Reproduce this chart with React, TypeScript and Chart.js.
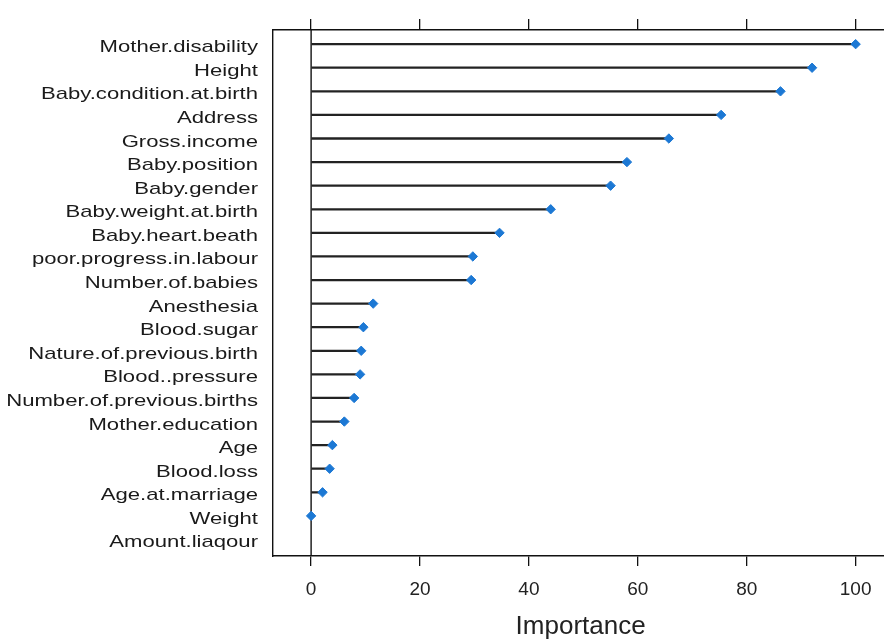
import React, { useEffect, useRef } from "react";
import { Chart, registerables } from "chart.js";

Chart.register(...registerables);

const categories: string[] = [
  "Mother.disability",
  "Height",
  "Baby.condition.at.birth",
  "Address",
  "Gross.income",
  "Baby.position",
  "Baby.gender",
  "Baby.weight.at.birth",
  "Baby.heart.beath",
  "poor.progress.in.labour",
  "Number.of.babies",
  "Anesthesia",
  "Blood.sugar",
  "Nature.of.previous.birth",
  "Blood..pressure",
  "Number.of.previous.births",
  "Mother.education",
  "Age",
  "Blood.loss",
  "Age.at.marriage",
  "Weight",
  "Amount.liaqour",
];

const importance: (number | null)[] = [
  100, 92.0, 86.2, 75.3, 65.7, 58.0, 55.0, 44.0, 34.6, 29.7, 29.4,
  11.4, 9.6, 9.2, 9.0, 7.9, 6.1, 3.9, 3.4, 2.1, 0, null,
];

const xTicks: number[] = [0, 20, 40, 60, 80, 100];
const xTitle = "Importance";

const FONT = '"Liberation Sans", Arial, sans-serif';

const yLabelPlugin = {
  id: "yLabels",
  afterDraw(chart: any) {
    const { ctx, scales } = chart;
    const y = scales.y;
    const xRight = y.right - 15;
    ctx.save();
    ctx.font = `17px ${FONT}`;
    ctx.fillStyle = "#1a1a1a";
    ctx.textAlign = "right";
    ctx.textBaseline = "alphabetic";
    categories.forEach((c, i) => {
      const py = y.getPixelForValue(i);
      ctx.save();
      ctx.translate(xRight, py + 8);
      ctx.scale(1.3, 1);
      ctx.fillText(c, 0, 0);
      ctx.restore();
    });
    ctx.restore();
  },
};

export default function App() {
  const ref = useRef<HTMLCanvasElement | null>(null);

  useEffect(() => {
    if (!ref.current) return;
    Chart.defaults.font.family = FONT;
    const points = importance
      .map((v, i) => (v === null ? null : { x: v, y: i }))
      .filter((p) => p !== null);
    const segments = importance
      .map((v, i) => (v === null ? null : { y: i, x: [0, v] }))
      .filter((p) => p !== null);

    const chart = new Chart(ref.current, {
      data: {
        datasets: [
          {
            type: "scatter",
            data: points as any,
            pointStyle: "rectRot",
            pointRadius: 4.7,
            pointBackgroundColor: "#1c78d4",
            pointBorderColor: "#1c78d4",
            pointBorderWidth: 1,
            xAxisID: "x",
            yAxisID: "y",
          } as any,
          {
            type: "bar",
            indexAxis: "y",
            data: segments as any,
            backgroundColor: "#222",
            borderWidth: 0,
            barThickness: 1.6,
            xAxisID: "x",
            yAxisID: "y",
          } as any,
          {
            type: "line",
            data: [
              { x: 0, y: -0.6 },
              { x: 0, y: 21.7 },
            ],
            borderColor: "#111",
            borderWidth: 1.4,
            pointRadius: 0,
            xAxisID: "x",
            yAxisID: "y",
          } as any,
        ],
      },
      options: {
        animation: false,
        responsive: false,
        maintainAspectRatio: false,
        events: [],
        layout: { padding: 0 },
        plugins: {
          legend: { display: false },
          tooltip: { enabled: false },
        },
        scales: {
          x: {
            type: "linear",
            position: "bottom",
            min: -7,
            max: 106.0,
            offset: false,
            afterBuildTicks: (s: any) => {
              s.ticks = xTicks.map((v) => ({ value: v }));
            },
            afterFit: (s: any) => {
              s.height = 86;
            },
            grid: {
              display: true,
              drawOnChartArea: false,
              drawTicks: true,
              tickLength: 10,
              color: "#111",
              lineWidth: 1.3,
              offset: false,
            },
            border: { display: true, color: "#111", width: 1.4 },
            ticks: {
              color: "#222",
              font: { size: 19, family: FONT },
              padding: 12,
              maxRotation: 0,
            },
            title: {
              display: true,
              text: xTitle,
              color: "#222",
              font: { size: 26, family: FONT, lineHeight: 1.2 },
              padding: { top: 0, bottom: 0 },
            },
          },
          x2: {
            type: "linear",
            position: "top",
            min: -7,
            max: 106.0,
            offset: false,
            afterBuildTicks: (s: any) => {
              s.ticks = xTicks.map((v) => ({ value: v }));
            },
            afterFit: (s: any) => {
              s.height = 30;
            },
            grid: {
              display: true,
              drawOnChartArea: false,
              drawTicks: true,
              tickLength: 11,
              color: "#111",
              lineWidth: 1.3,
              offset: false,
            },
            border: { display: true, color: "#111", width: 1.4 },
            ticks: { display: false },
          },
          y: {
            type: "linear",
            position: "left",
            reverse: true,
            min: -0.6,
            max: 21.7,
            offset: false,
            afterFit: (s: any) => {
              s.width = 273;
            },
            grid: { display: false, drawTicks: false, offset: false },
            border: { display: true, color: "#111", width: 1.4 },
            ticks: { display: false },
          },
        },
      } as any,
      plugins: [yLabelPlugin],
    });
    return () => chart.destroy();
  }, []);

  return (
    <div
      style={{
        position: "absolute",
        left: 0,
        top: 0,
        width: 884,
        height: 642,
        overflow: "hidden",
        background: "#fff",
      }}
    >
      <canvas
        ref={ref}
        width={894}
        height={642}
        style={{ display: "block", width: 894, height: 642 }}
      />
    </div>
  );
}
